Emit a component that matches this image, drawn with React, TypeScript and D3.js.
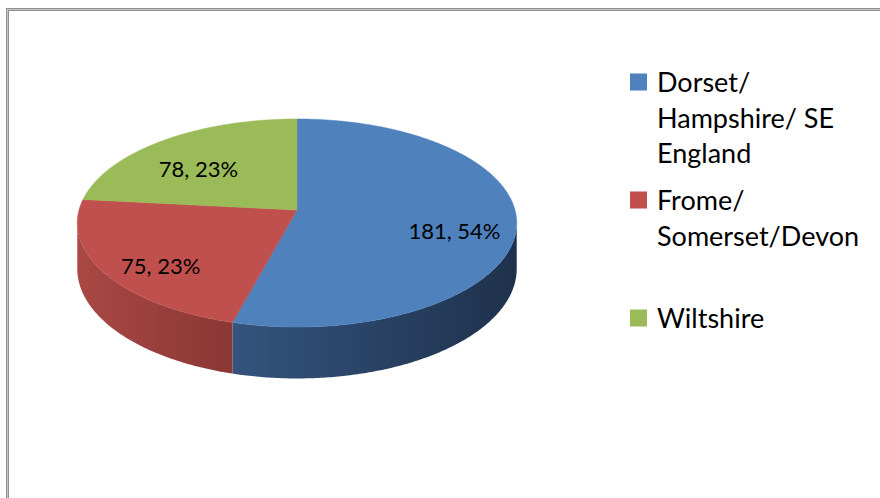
import React from "react";
import * as d3 from "d3";

const categories = ["Dorset/ Hampshire/ SE England", "Frome/ Somerset/Devon", "Wiltshire"];
const legendLines = [["Dorset/", "Hampshire/ SE", "England"], ["Frome/", "Somerset/Devon"], ["Wiltshire"]];
const values = [181, 75, 78];
const percentLabels = ["54%", "23%", "23%"];
const topColors = ["#4F81BD", "#C0504D", "#9BBB59"];
const wallLight = ["#34547D", "#A94845", "#7E9A48"];
const wallDark = ["#1E314C", "#8A3735", "#5F7535"];

export default function App() {
  const W = 880, H = 498;
  const cx = 297, cy = 210, R = 218, A = 102.4, b = 0.125, depth = 45;
  const proj = (t: number, r = 1, d = 0): [number, number] => {
    const x = Math.sin(t) * r, z = Math.cos(t) * r;
    const f = 1 / (1 + b * z);
    return [cx + R * x * f, cy - A * z * f + d * depth * f];
  };
  const arcs = d3.pie<number>().sort(null).value((v) => v)(values);
  const line = d3.line();
  const tL = Math.acos(-b);
  const tR = 2 * Math.PI - tL;
  const font = "Lato, 'Open Sans', sans-serif";

  const gradients: React.ReactNode[] = [];
  const walls: React.ReactNode[] = [];
  arcs.forEach((a, i) => {
    const s = Math.max(a.startAngle, tL);
    const e = Math.min(a.endAngle, tR);
    if (e <= s) return;
    const n = Math.max(2, Math.ceil((e - s) / 0.01));
    const topPts: [number, number][] = [];
    const botPts: [number, number][] = [];
    for (let k = 0; k <= n; k++) {
      const t = s + ((e - s) * k) / n;
      topPts.push(proj(t, 1, 0));
      botPts.push(proj(t, 1, 1));
    }
    const xs = topPts.map((p) => p[0]);
    const xmin = d3.min(xs) as number, xmax = d3.max(xs) as number;
    const id = `wg${i}`;
    gradients.push(
      <linearGradient key={id} id={id} gradientUnits="userSpaceOnUse" x1={xmin} y1={0} x2={xmax} y2={0}>
        <stop offset="0" stopColor={wallLight[i]} />
        <stop offset="1" stopColor={wallDark[i]} />
      </linearGradient>
    );
    const pts = topPts.concat(botPts.reverse());
    walls.push(<path key={`w${i}`} d={line(pts) + "Z"} fill={`url(#${id})`} />);
  });

  const tops = arcs.map((a, i) => {
    const n = Math.max(4, Math.ceil((a.endAngle - a.startAngle) / 0.01));
    const pts: [number, number][] = [[cx, cy]];
    for (let k = 0; k <= n; k++) {
      pts.push(proj(a.startAngle + ((a.endAngle - a.startAngle) * k) / n));
    }
    return <path key={`t${i}`} d={line(pts) + "Z"} fill={topColors[i]} stroke={topColors[i]} strokeWidth={0.5} />;
  });

  const labels = arcs.map((a, i) => {
    const mid = (a.startAngle + a.endAngle) / 2;
    const [x, y] = proj(mid, 0.72, 0.24);
    return (
      <text key={`l${i}`} x={x} y={y} textAnchor="middle" dominantBaseline="central"
        fontFamily={font} fontSize={22} fill="#000">
        {`${values[i]}, ${percentLabels[i]}`}
      </text>
    );
  });

  const legendX = 630, textX = 657, firstBase = 92, pitch = 118, lineH = 35.5;

  return (
    <svg width={W} height={H} style={{ position: "absolute", left: 0, top: 0, background: "#fff" }}>
      <defs>{gradients}</defs>
      <rect x={7.5} y={9.5} width={1000} height={700} fill="#fff" stroke="#8f8f8f" strokeWidth={3} />
      <rect x={7.5} y={9.5} width={1000} height={700} fill="none" stroke="#d4d4d4" strokeWidth={0.8} />
      {walls}
      {tops}
      {labels}
      {categories.map((c, i) => {
        const base = firstBase + i * pitch;
        return (
          <g key={`g${i}`} aria-label={c}>
            <rect x={legendX} y={base - 18.5} width={17} height={17} fill={topColors[i]} />
            <text fontFamily={font} fontSize={27} fill="#000">
              {legendLines[i].map((ln, j) => (
                <tspan key={j} x={textX} y={base + j * lineH}>{ln}</tspan>
              ))}
            </text>
          </g>
        );
      })}
    </svg>
  );
}
